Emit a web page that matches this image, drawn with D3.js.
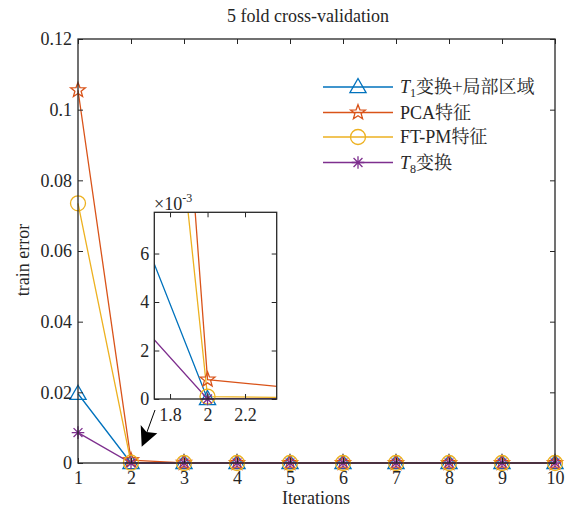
<!DOCTYPE html>
<html>
<head>
<meta charset="utf-8">
<script src="https://cdn.jsdelivr.net/npm/d3@7"></script>
<style>
  body { margin: 0; background: #fff; }
  text { font-family: "Liberation Serif", "Times New Roman", serif; fill: #262626; }
  .cjk { font-family: "Noto Serif CJK SC", "Noto Sans CJK SC", serif; }
</style>
</head>
<body>
<svg id="chart" width="568" height="511"></svg>
<script>
// ---- data ----
var iterations = [1, 2, 3, 4, 5, 6, 7, 8, 9, 10];
var t1Local = [0.0196, 0, 0, 0, 0, 0, 0, 0, 0, 0];
var pcaFeat = [0.1055, 0.0008, 0.00005, 0, 0, 0, 0, 0, 0, 0];
var ftpmFeat = [0.0735, 0.0001, 0, 0, 0, 0, 0, 0, 0, 0];
var t8Trans = [0.0086, 0, 0, 0, 0, 0, 0, 0, 0, 0];
var yTicks = [0, 0.02, 0.04, 0.06, 0.08, 0.1, 0.12];
var insetXTicks = [1.8, 2, 2.2];
var insetYTicks = [0, 2, 4, 6];

var series = [
  { name: 'T1', values: t1Local, color: '#0072BD', marker: 'triangle' },
  { name: 'PCA特征', values: pcaFeat, color: '#D95319', marker: 'star' },
  { name: 'FT-PM特征', values: ftpmFeat, color: '#EDB120', marker: 'circle' },
  { name: 'T8', values: t8Trans, color: '#7E2F8E', marker: 'asterisk' }
];

var svg = d3.select('#chart');
var axisColor = '#262626';
var fontSize = 18;

// marker path generators
function markerPath(type, s) {
  var p = d3.path();
  if (type === 'triangle') {
    var h = s * 0.95;
    p.moveTo(0, -h * 0.6); p.lineTo(s * 0.54, h * 0.4); p.lineTo(-s * 0.54, h * 0.4); p.closePath();
  } else if (type === 'star') {
    var ro = s * 0.52, ri = ro * 0.42;
    for (var i = 0; i < 10; i++) {
      var r = i % 2 ? ri : ro;
      var a = -Math.PI / 2 + i * Math.PI / 5;
      if (i === 0) p.moveTo(r * Math.cos(a), r * Math.sin(a));
      else p.lineTo(r * Math.cos(a), r * Math.sin(a));
    }
    p.closePath();
  } else if (type === 'circle') {
    p.arc(0, 0, s * 0.5, 0, 2 * Math.PI);
  } else {
    var q = s * 0.42, d = q * 0.707;
    p.moveTo(-q, 0); p.lineTo(q, 0);
    p.moveTo(0, -q); p.lineTo(0, q);
    p.moveTo(-d, -d); p.lineTo(d, d);
    p.moveTo(-d, d); p.lineTo(d, -d);
  }
  return p.toString();
}

function drawMarkers(g, s, pts, size) {
  g.selectAll(null).data(pts).enter().append('path')
    .attr('transform', function (d) { return 'translate(' + d[0] + ',' + d[1] + ')'; })
    .attr('d', markerPath(s.marker, size))
    .attr('fill', 'none')
    .attr('stroke', s.color)
    .attr('stroke-width', 1.3);
}

// ---- main axes ----
var x = d3.scaleLinear().domain([1, 10]).range([78, 555]);
var y = d3.scaleLinear().domain([0, 0.12]).range([463, 39]);

var line = d3.line()
  .x(function (d, i) { return x(iterations[i]); })
  .y(function (d) { return y(d); });

var main = svg.append('g');
series.forEach(function (s) {
  main.append('path').datum(s.values)
    .attr('d', line).attr('fill', 'none')
    .attr('stroke', s.color).attr('stroke-width', 1.3);
});
series.forEach(function (s) {
  drawMarkers(main, s, s.values.map(function (v, i) { return [x(iterations[i]), y(v)]; }), 15);
});

function boxAxes(g, xs, ys, xt, yt, xfmt, yfmt, xpad, ypad) {
  var x0 = xs.range()[0], x1 = xs.range()[1], y0 = ys.range()[0], y1 = ys.range()[1];
  var tl = 5;
  g.append('g').attr('transform', 'translate(0,' + y0 + ')')
    .call(d3.axisBottom(xs).tickValues(xt).tickSizeInner(-tl).tickSizeOuter(0).tickPadding(xpad).tickFormat(xfmt));
  g.append('g').attr('transform', 'translate(0,' + y1 + ')')
    .call(d3.axisTop(xs).tickValues(xt).tickSizeInner(-tl).tickSizeOuter(0).tickFormat(''));
  g.append('g').attr('transform', 'translate(' + x0 + ',0)')
    .call(d3.axisLeft(ys).tickValues(yt).tickSizeInner(-tl).tickSizeOuter(0).tickPadding(ypad).tickFormat(yfmt));
  g.append('g').attr('transform', 'translate(' + x1 + ',0)')
    .call(d3.axisRight(ys).tickValues(yt).tickSizeInner(-tl).tickSizeOuter(0).tickFormat(''));
  g.selectAll('.domain').remove();
  g.selectAll('.tick line').attr('stroke', axisColor);
  g.selectAll('.tick text').attr('font-size', fontSize).attr('fill', axisColor)
    .attr('font-family', '"Liberation Serif", serif');
  g.append('rect').attr('x', x0).attr('y', y1).attr('width', x1 - x0).attr('height', y0 - y1)
    .attr('fill', 'none').attr('stroke', axisColor).attr('stroke-width', 1.3);
}

boxAxes(svg.append('g'), x, y, iterations, yTicks, d3.format('d'),
  function (d) { return d === 0 ? '0' : String(+d.toFixed(2)); }, 8, 6);

// titles
svg.append('text').attr('x', 308).attr('y', 22).attr('text-anchor', 'middle')
  .attr('font-size', fontSize).text('5 fold cross-validation');
svg.append('text').attr('x', 316).attr('y', 504).attr('text-anchor', 'middle')
  .attr('font-size', fontSize).text('Iterations');
svg.append('text').attr('transform', 'translate(29,260) rotate(-90)').attr('text-anchor', 'middle')
  .attr('font-size', fontSize).text('train error');

// ---- legend ----
var legend = svg.append('g');
var legY = [87, 112.5, 137, 162.5];
series.forEach(function (s, i) {
  var row = legend.append('g').attr('transform', 'translate(0,' + legY[i] + ')');
  row.append('line').attr('x1', 323).attr('x2', 393).attr('stroke', s.color).attr('stroke-width', 1.3);
  drawMarkers(row, s, [[358, 0]], 15);
  var t = row.append('text').attr('x', 400).attr('y', 6).attr('font-size', fontSize);
  if (s.name === 'T1' || s.name === 'T8') {
    t.append('tspan').attr('font-style', 'italic').text('T');
    t.append('tspan').attr('font-size', 12).attr('dy', 4).text(s.name.slice(1));
    t.append('tspan').attr('dy', -4).attr('class', 'cjk')
      .text(s.name === 'T1' ? '变换+局部区域' : '变换');
  } else {
    var parts = s.name.match(/^([A-Za-z\-]+)(.*)$/);
    t.append('tspan').text(parts[1]);
    t.append('tspan').attr('class', 'cjk').text(parts[2]);
  }
});

// ---- arrow pointing at the zoomed region ----
svg.append('line').attr('x1', 155).attr('y1', 410).attr('x2', 147).attr('y2', 432)
  .attr('stroke', '#000').attr('stroke-width', 1);
svg.append('path').attr('d', 'M141.7,446.7 L140.7,425 L146.5,432 L157.3,433.3 Z').attr('fill', '#000');

// ---- inset ----
var ix = d3.scaleLinear().domain([1.716, 2.369]).range([154.3, 276.7]);
var iy = d3.scaleLinear().domain([0, 0.0077]).range([399, 212.3]);
var inset = svg.append('g');
inset.append('rect').attr('x', 154.3).attr('y', 212.3).attr('width', 122.4).attr('height', 186.7).attr('fill', '#fff');
svg.append('clipPath').attr('id', 'insetClip').append('rect')
  .attr('x', 154.3).attr('y', 212.3).attr('width', 122.4).attr('height', 186.7);
var iline = d3.line()
  .x(function (d, i) { return ix(iterations[i]); })
  .y(function (d) { return iy(d); });
var ilines = inset.append('g').attr('clip-path', 'url(#insetClip)');
series.forEach(function (s) {
  ilines.append('path').datum(s.values).attr('d', iline).attr('fill', 'none')
    .attr('stroke', s.color).attr('stroke-width', 1.3);
});
series.forEach(function (s) {
  drawMarkers(inset, s, [[ix(2), iy(s.values[1])]], 15);
});
boxAxes(inset.append('g'), ix, iy, insetXTicks, insetYTicks.map(function (v) { return v / 1000; }),
  function (d) { return String(d); }, function (d) { return String(Math.round(d * 1000)); }, 9, 5);
var expo = inset.append('text').attr('x', 154).attr('y', 210).attr('font-size', fontSize);
expo.append('tspan').text('×10');
expo.append('tspan').attr('font-size', 12).attr('dy', -8).text('-3');
</script>
</body>
</html>
